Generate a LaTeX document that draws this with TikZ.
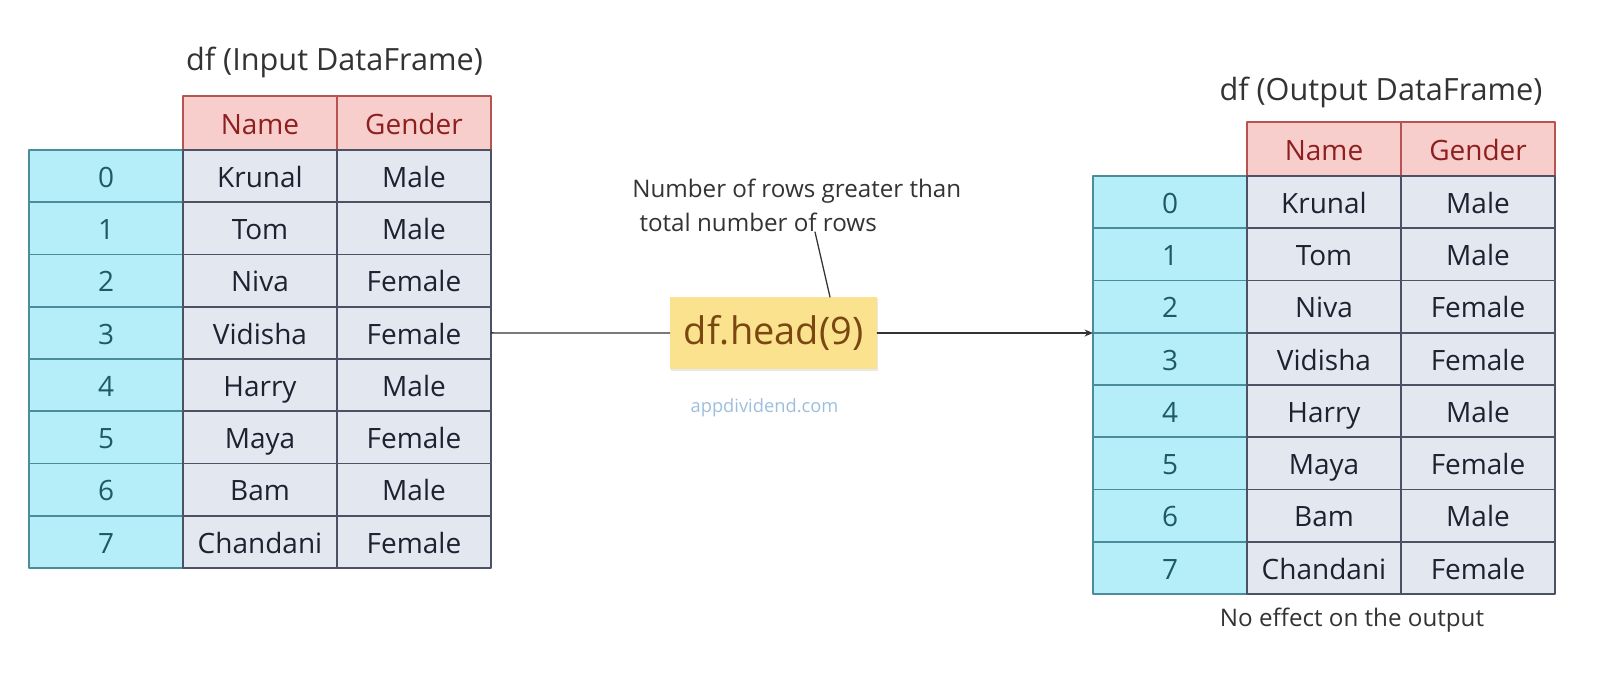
\documentclass[tikz,border=0pt]{standalone}
\usepackage{fontspec}
\setmainfont{Open Sans}
\usetikzlibrary{arrows.meta,shadows}
\definecolor{hdrfill}{HTML}{F8CECC}
\definecolor{hdrline}{HTML}{B85450}
\definecolor{hdrtext}{HTML}{8E1F1F}
\definecolor{idxfill}{HTML}{B5EEF8}
\definecolor{idxline}{HTML}{4A8C99}
\definecolor{idxtext}{HTML}{1E5A66}
\definecolor{datfill}{HTML}{E3E7EF}
\definecolor{datline}{HTML}{4C5263}
\definecolor{dattext}{HTML}{1C2230}
\definecolor{headfill}{HTML}{FAE28F}
\definecolor{headtext}{HTML}{7A4710}
\definecolor{webtext}{HTML}{9CBEDD}
\definecolor{plaintext}{HTML}{333333}
\begin{document}
\begin{tikzpicture}[x=0.025cm,y=-0.025cm,line join=round,line cap=round,>={Stealth[length=6pt,width=5pt]}]
			\tikzset{cell/.style={minimum width=3.85cm,minimum height=1.306cm,inner sep=0pt,outer sep=0pt,line width=1.2pt,
					text height=16pt,text depth=0pt,font=\fontsize{19.9}{24}\selectfont},
				hdrcell/.style={cell,minimum height=1.35cm,draw=hdrline,fill=hdrfill,text=hdrtext},
				idxcell/.style={cell,draw=idxline,fill=idxfill,text=idxtext},
				datcell/.style={cell,draw=datline,fill=datfill,text=dattext},
				title/.style={text=plaintext,font=\fontsize{21.8}{26}\selectfont,inner sep=0pt},
				note/.style={text=plaintext,font=\fontsize{17.2}{24}\selectfont,inner sep=0pt}}
			\useasboundingbox (0,0) rectangle (1600,672);
			% titles
			\node[title] (intitle) at (334.5,62) {df (Input DataFrame)};
			\node[title] (outtitle) at (1381,92) {df (Output DataFrame)};
			% header rows
			\node[hdrcell] (lhn) at (260,123) {Name};
			\node[hdrcell] (lhg) at (414,123) {Gender};
			\node[hdrcell] (rhn) at (1324,149) {Name};
			\node[hdrcell] (rhg) at (1478,149) {Gender};
			% body rows
			\foreach \nm/\gd [count=\i from 0] in {Krunal/Male,Tom/Male,Niva/Female,Vidisha/Female,Harry/Male,Maya/Female,Bam/Male,Chandani/Female}{
				\node[idxcell] (li\i) at (106,{176.125+52.25*\i}) {\i};
				\node[datcell] (ln\i) at (260,{176.125+52.25*\i}) {\nm};
				\node[datcell] (lg\i) at (414,{176.125+52.25*\i}) {\gd};
				\node[idxcell] (ri\i) at (1170,{202.125+52.25*\i}) {\i};
				\node[datcell] (rn\i) at (1324,{202.125+52.25*\i}) {\nm};
				\node[datcell] (rg\i) at (1478,{202.125+52.25*\i}) {\gd};
			}
			% function box
			\node[fill=headfill,text=headtext,minimum width=5.175cm,minimum height=1.8cm,inner sep=0pt,
				drop shadow={opacity=0.18,shadow xshift=0.6pt,shadow yshift=-1.2pt},
				font=\fontsize{27}{30}\selectfont] (head) at (773.5,333) {df.head(9)};
			\node[text=webtext,font=\fontsize{13}{16}\selectfont,inner sep=0pt] (web) at (764.5,408) {appdividend.com};
			\node[note,align=left,anchor=west] (rowsnote) at (632,205) {Number of rows greater than\\\hspace*{0.3em}total number of rows};
			\node[note] (effect) at (1352,620) {No effect on the output};
			\coordinate (notefoot) at (815,232);
			\coordinate (headtop) at (830,297);
			% connectors
			\draw[line width=0.9pt,plaintext] (lg3.east) -- (head.west);
			\draw[line width=0.9pt,plaintext,->] (head.east) -- (head.east -| ri2.south west);
			\draw[line width=0.9pt,plaintext] (notefoot) -- (headtop);
		\end{tikzpicture}
\end{document}
